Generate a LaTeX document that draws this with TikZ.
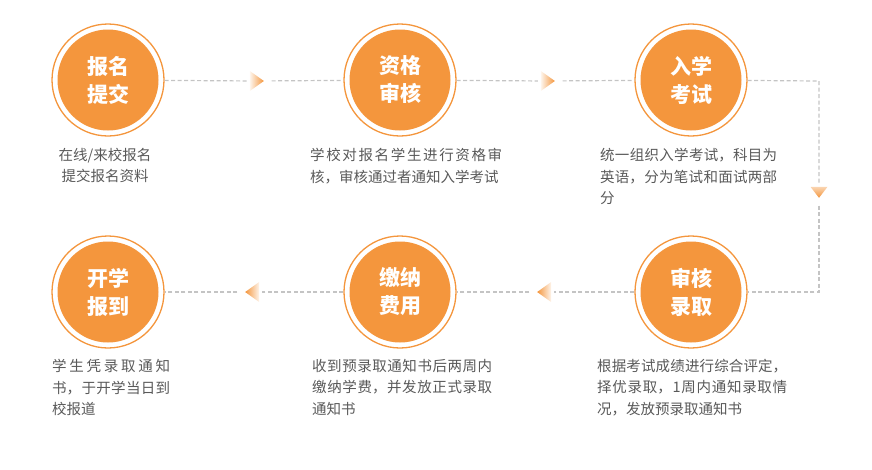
\documentclass[tikz,border=0pt]{standalone}
\usepackage{fontspec}
\setmainfont{Noto Sans CJK SC}
\usetikzlibrary{shapes.geometric}
\XeTeXlinebreaklocale "zh"
\XeTeXlinebreakskip=0pt plus 3pt
\tolerance=10000
\definecolor{steporange}{HTML}{F4963D}
\definecolor{desctext}{HTML}{595959}
\definecolor{linkgray}{HTML}{C4C4C4}
\tikzset{
  stepnode/.style={circle,draw=steporange,line width=1.3pt,minimum size=112pt,
            inner sep=0pt,fill=white,align=center,text=white,
            path picture={\fill[steporange] (path picture bounding box.center) circle (50.5pt);},
            font=\fontsize{21}{28}\selectfont\bfseries},
  desc/.style={inner sep=0pt,anchor=north west,align=justify,text=desctext,
            font=\fontsize{14.5}{21.5}\selectfont},
  link/.style={draw=linkgray,line width=1.2pt,dash pattern=on 4pt off 2.5pt},
  tri/.style={isosceles triangle,isosceles triangle stretches,inner sep=0pt,outer sep=3pt},
  triright/.style={tri,minimum height=14pt,minimum width=20pt,
            left color=steporange!10,right color=steporange},
  trileft/.style={tri,shape border rotate=180,minimum height=14pt,minimum width=20pt,
            left color=steporange,right color=steporange!10},
  tridown/.style={tri,shape border rotate=-90,minimum width=17pt,minimum height=11pt,
            top color=steporange!40,bottom color=steporange},
}

\begin{document}
\begin{tikzpicture}[x=1pt,y=-1pt]
  \useasboundingbox (0,0) rectangle (872,469);
  % steps, top row
  \node[stepnode] (st1) at (108,80)  {报名\\提交};
  \node[stepnode] (st2) at (400,80)  {资格\\审核};
  \node[stepnode] (st3) at (691,80)  {入学\\考试};
  % steps, bottom row
  \node[stepnode] (st6) at (108,292) {开学\\报到};
  \node[stepnode] (st5) at (400,292) {缴纳\\费用};
  \node[stepnode] (st4) at (691,292) {审核\\录取};
  % arrow marks
  \node[triright] (tr1) at (255,81) {};
  \node[triright] (tr2) at (546,81) {};
  \node[tridown]  (tr3) at (819,191) {};
  \node[trileft]  (tr4) at (546,292) {};
  \node[trileft]  (tr5) at (254,292) {};
  \coordinate (ne) at (819,81);
  \coordinate (se) at (819,292);
  \draw[link] (st1) -- (tr1);
  \draw[link] (tr1) -- (st2);
  \draw[link] (st2) -- (tr2);
  \draw[link] (tr2) -- (st3);
  \draw[link] (st3) -- (ne) -- (tr3);
  \draw[link] (tr3) -- (se) -- (st4);
  \draw[link] (st4) -- (tr4);
  \draw[link] (tr4) -- (st5);
  \draw[link] (st5) -- (tr5);
  \draw[link] (tr5) -- (st6);
  % descriptions
  \node[desc,anchor=north,align=center] (d1) at (105,148) {在线/来校报名\\提交报名资料};
  \node[desc,text width=192pt] (d2) at (310,148) {学校对报名学生进行资格审核，审核通过者通知入学考试};
  \node[desc,text width=177pt] (d3) at (600,148) {统一组织入学考试，科目为英语，分为笔试和面试两部分};
  \node[desc,text width=118pt] (d6) at (52,359)  {学生凭录取通知书，于开学当日到校报道};
  \node[desc,text width=180pt] (d5) at (312,359) {收到预录取通知书后两周内缴纳学费，并发放正式录取通知书};
  \node[desc,text width=190pt] (d4) at (597,359) {根据考试成绩进行综合评定，择优录取，1周内通知录取情况，发放预录取通知书};
\end{tikzpicture}
\end{document}
